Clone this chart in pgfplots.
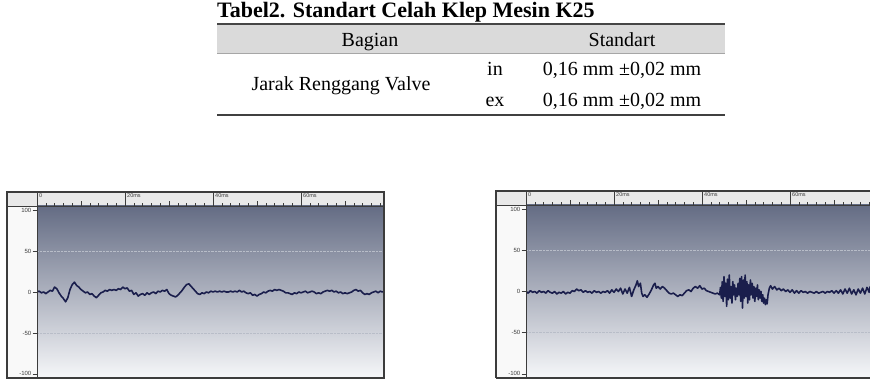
\documentclass[border=0pt]{standalone}
\usepackage{pgfplots}
\pgfplotsset{compat=1.18}
\usepackage{fontspec}
\setmainfont{Liberation Serif}
\newfontfamily\sansf{Liberation Sans}
\definecolor{trace}{HTML}{1A1E4C}
\definecolor{bgtop}{HTML}{646C84}
\definecolor{bgmid}{HTML}{A9AFBE}
\definecolor{bgbot}{HTML}{F6F7F9}
\definecolor{framec}{HTML}{3C3C3C}
\definecolor{rulerc}{HTML}{E9E9E9}
\definecolor{hdr}{HTML}{DADADA}
\definecolor{gridc}{HTML}{B8BDC8}
\pgfplotsset{wave/.style={
  scale only axis, xmin=0, ymin=-105, ymax=105,
  clip mode=individual,
  axis line style={draw=none},
  axis background/.style={shade, top color=bgtop, middle color=bgmid, bottom color=bgbot, draw=none},
  xtick={0,10,...,70}, minor xtick={2,4,...,78}, xticklabels={}, xtick pos=upper,
  ytick={-100,-50,0,50,100}, yticklabels={-100,-50,0,50,100}, ytick pos=lower,
  tick align=outside, major tick length=4.5pt, minor tick length=2.5pt,
  every tick/.style={framec, line width=0.5pt},
  yticklabel style={font=\sansf\fontsize{6}{6}\selectfont, text=framec, inner sep=1pt},
}}
\tikzset{rl/.style={anchor=north west, font=\sansf\fontsize{5.5}{5.5}\selectfont, text=framec, inner sep=0.5pt}}
\begin{document}
\begin{tikzpicture}[x=1pt,y=1pt]
\path[use as bounding box] (0pt,0pt) rectangle (870pt,388pt);
% ---------- table ----------
\node[anchor=base west, font=\bfseries\fontsize{22}{22}\selectfont, inner sep=0] at (217pt,370.5pt) {Tabel2. Standart Celah Klep Mesin K25};
\fill[hdr] (217pt,335pt) rectangle (725pt,364pt);
\draw[gray!55!black, line width=2pt] (217pt,364pt) -- (725pt,364pt);
\draw[gray!70, line width=0.8pt] (217pt,334.5pt) -- (725pt,334.5pt);
\draw[black!75, line width=1.5pt] (217pt,273pt) -- (725pt,273pt);
\begin{scope}[every node/.style={anchor=base, inner sep=0, font=\fontsize{20}{24}\selectfont}]
\node at (370pt,341.5pt) {Bagian};
\node at (622pt,341.5pt) {Standart};
\node at (341pt,297.3pt) {Jarak Renggang Valve};
\node at (495pt,312pt) {in};
\node at (495pt,281.3pt) {ex};
\node at (622pt,312pt) {0,16 mm ±0,02 mm};
\node at (622pt,281.3pt) {0,16 mm ±0,02 mm};
\end{scope}
% ---------- left panel ----------
\fill[white!95!gray] (7pt,10pt) rectangle (37pt,196pt);
\fill[rulerc] (7pt,182pt) rectangle (384pt,196pt);
\begin{axis}[wave, at={(37pt,10pt)}, anchor=south west, width=347pt, height=172pt, xmax=78.86]
\draw[gridc, densely dotted] (axis cs:0,50) -- (axis cs:78.86,50);
\draw[gridc, densely dotted] (axis cs:0,-50) -- (axis cs:78.86,-50);
\addplot[trace, line width=1.6pt, line join=round, no marks] coordinates {
(0,0)(0.5,1)(1,-1)(1.5,0)(2,-2)(2.5,0)(3,2)(3.5,1)(4,6)(4.5,4)(5,-1)(5.5,-5)(6,-8)(6.5,-12)(7,-7)(7.5,3)(8,9)(8.5,12)(9,8)(9.5,6)(10,3)(10.5,1)(11,-1)(11.5,0)(12,-3)(12.5,-2)(13,-5)(13.5,-7)(14,-4)(14.5,-1)(15,0)(15.5,2)(16,1)(16.5,3)(17,2)(17.5,3)(18,2)(18.5,4)(19,3)(19.5,6)(20,4)(20.5,5)(21,1)(21.5,2)(22,-3)(22.5,-1)(23,-5)(23.5,-3)(24,-2)(24.5,-4)(25,-1)(25.5,-3)(26,-1)(26.5,0)(27,-2)(27.5,1)(28,0)(28.5,2)(29,1)(29.5,3)(30,-2)(30.5,-4)(31,-5)(31.5,-6)(32,-4)(32.5,-1)(33,2)(33.5,6)(34,9)(34.5,10)(35,7)(35.5,4)(36,1)(36.5,-2)(37,-3)(37.5,-1)(38,-2)(38.5,0)(39,-1)(39.5,1)(40,0)(40.5,1)(41,0)(41.5,1)(42,0)(42.5,1)(43,0)(43.5,0)(44,1)(44.5,0)(45,1)(45.5,0)(46,2)(46.5,0)(47,1)(47.5,-1)(48,-2)(48.5,-1)(49,-4)(49.5,-3)(50,-5)(50.5,-3)(51,-2)(51.5,0)(52,-1)(52.5,1)(53,2)(53.5,1)(54,3)(54.5,2)(55,3)(55.5,2)(56,1)(56.5,-1)(57,-1)(57.5,-2)(58,-3)(58.5,-1)(59,-2)(59.5,0)(60,-1)(60.5,0)(61,1)(61.5,-1)(62,0)(62.5,1)(63,0)(63.5,-2)(64,-1)(64.5,-2)(65,0)(65.5,1)(66,2)(66.5,1)(67,2)(67.5,0)(68,1)(68.5,-1)(69,0)(69.5,-2)(70,-1)(70.5,-2)(71,-1)(71.5,0)(72,2)(72.5,3)(73,1)(73.5,2)(74,-1)(74.5,-3)(75,-2)(75.5,-3)(76,-1)(76.5,0)(77,1)(77.5,-1)(78,1)(78.5,0)(79,1)
};
\draw[framec, line width=0.5pt] (axis cs:20,105) -- ++(0pt,14pt);
\draw[framec, line width=0.5pt] (axis cs:40,105) -- ++(0pt,14pt);
\draw[framec, line width=0.5pt] (axis cs:60,105) -- ++(0pt,14pt);
\node[rl] at ([xshift=1.5pt,yshift=13pt]axis cs:0,105) {0};
\node[rl] at ([xshift=1.5pt,yshift=13pt]axis cs:20,105) {20ms};
\node[rl] at ([xshift=1.5pt,yshift=13pt]axis cs:40,105) {40ms};
\node[rl] at ([xshift=1.5pt,yshift=13pt]axis cs:60,105) {60ms};
\end{axis}
\draw[framec, line width=0.6pt] (37pt,10pt) -- (37pt,196pt);
\draw[framec, line width=0.6pt] (7pt,182pt) -- (384pt,182pt);
\draw[framec, line width=1.5pt] (7pt,10pt) rectangle (384pt,196pt);
% ---------- right panel ----------
\fill[white!95!gray] (496pt,10pt) rectangle (526pt,197pt);
\fill[rulerc] (496pt,183pt) rectangle (872pt,197pt);
\begin{axis}[wave, at={(526pt,10pt)}, anchor=south west, width=344pt, height=173pt, xmax=78.18]
\draw[gridc, densely dotted] (axis cs:0,50) -- (axis cs:78.18,50);
\draw[gridc, densely dotted] (axis cs:0,-50) -- (axis cs:78.18,-50);
\addplot[trace, line width=1.6pt, line join=round, no marks] coordinates {
(0,0)(0.5,-2)(1,1)(1.5,-1)(2,0)(2.5,-2)(3,1)(3.5,-1)(4,0)(4.5,-2)(5,1)(5.5,-1)(6,-2)(6.5,0)(7,-3)(7.5,-1)(8,-2)(8.5,0)(9,-3)(9.5,-1)(10,-2)(10.5,1)(11,0)(11.5,3)(12,1)(12.5,2)(13,-1)(13.5,1)(14,-1)(14.5,0)(15,-2)(15.5,1)(16,-1)(16.5,0)(17,-2)(17.5,0)(18,-1)(18.5,1)(19,-2)(19.5,2)(20,-1)(20.5,3)(21,0)(21.5,4)(22,-3)(22.5,3)(23,-2)(23.5,5)(24,-6)(24.5,2)(25,8)(25.3,13)(25.6,6)(26,10)(26.3,-2)(26.6,-6)(27,-4)(27.5,-7)(28,-3)(28.5,2)(29,8)(29.3,10)(29.6,4)(30,6)(30.5,3)(31,6)(31.5,4)(32,1)(32.5,-2)(33,-3)(33.5,-2)(34,-4)(34.5,-6)(35,-4)(35.5,-5)(36,-2)(36.5,1)(37,2)(37.5,0)(38,4)(38.5,6)(39,4)(39.5,7)(40,3)(40.5,4)(41,1)(41.5,0)(42,-1)(42.5,-2)(43,-3)(43.5,-2)(44,-4)
(44.2,5)(44.4,-8)(44.6,12)(44.8,-12)(45,18)(45.2,-6)(45.4,10)(45.6,-18)(45.8,15)(46,-10)(46.2,20)(46.4,-8)(46.6,6)(46.8,-14)(47,12)(47.2,-4)(47.4,8)(47.6,-10)(47.8,4)(48,-6)(48.2,10)(48.4,-4)(48.6,16)(48.8,-12)(49,18)(49.2,-20)(49.4,14)(49.6,-8)(49.8,20)(50,-6)(50.2,12)(50.4,-14)(50.6,8)(50.8,-10)(51,14)(51.2,-4)(51.4,10)(51.6,-8)(51.8,6)(52,-12)(52.2,4)(52.4,-6)(52.6,8)(52.8,-10)(53,2)(53.2,-8)(53.4,0)(53.6,-12)(53.8,-4)(54,-14)(54.2,-8)(54.4,-16)(54.6,-10)(54.8,-15)(55,-4)
(55.3,4)(55.6,7)(56,3)(56.5,6)(57,2)(57.5,4)(58,1)(58.5,3)(59,0)(59.5,2)(60,-1)(60.5,2)(61,-2)(61.5,1)(62,-2)(62.5,1)(63,-1)(63.5,0)(64,-2)(64.5,0)(65,-1)(65.5,-2)(66,0)(66.5,-2)(67,-1)(67.5,0)(68,-2)(68.5,0)(69,-1)(69.5,1)(70,-2)(70.5,1)(71,-2)(71.5,2)(72,-3)(72.5,3)(73,-2)(73.5,4)(74,-3)(74.5,2)(75,-4)(75.5,3)(76,-2)(76.5,4)(77,-3)(77.5,5)(78,-1)(78.18,6)
};
\draw[framec, line width=0.5pt] (axis cs:20,105) -- ++(0pt,14pt);
\draw[framec, line width=0.5pt] (axis cs:40,105) -- ++(0pt,14pt);
\draw[framec, line width=0.5pt] (axis cs:60,105) -- ++(0pt,14pt);
\node[rl] at ([xshift=1.5pt,yshift=13pt]axis cs:0,105) {0};
\node[rl] at ([xshift=1.5pt,yshift=13pt]axis cs:20,105) {20ms};
\node[rl] at ([xshift=1.5pt,yshift=13pt]axis cs:40,105) {40ms};
\node[rl] at ([xshift=1.5pt,yshift=13pt]axis cs:60,105) {60ms};
\end{axis}
\draw[framec, line width=0.6pt] (526pt,10pt) -- (526pt,197pt);
\draw[framec, line width=0.6pt] (496pt,183pt) -- (872pt,183pt);
\draw[framec, line width=1.5pt] (496pt,10pt) -- (496pt,197pt) -- (875pt,197pt);
\draw[framec, line width=1.5pt] (496pt,10pt) -- (875pt,10pt);
\end{tikzpicture}
\end{document}
